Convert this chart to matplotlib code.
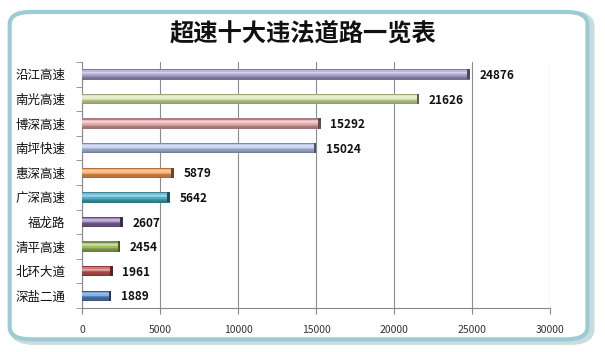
import matplotlib.pyplot as plt
from matplotlib.patches import FancyBboxPatch
import numpy as np

plt.rcParams['font.family'] = ['Noto Sans CJK SC', 'DejaVu Sans']

# data, top to bottom
roads = ['沿江高速', '南光高速', '博深高速', '南坪快速', '惠深高速',
         '广深高速', '福龙路', '清平高速', '北环大道', '深盐二通']
counts = [24876, 21626, 15292, 15024, 5879, 5642, 2607, 2454, 1961, 1889]
colors = ['#a9a1cc', '#cfe0a0', '#e3a9a8', '#a8b8e0', '#f79646',
          '#4bacc6', '#8064a2', '#9bbb59', '#c0504d', '#4f81bd']
x_ticks = [0, 5000, 10000, 15000, 20000, 25000, 30000]


def shade(c, f):
    rgb = np.array(plt.matplotlib.colors.to_rgb(c))
    if f > 0:
        return tuple(rgb + (1 - rgb) * f)
    return tuple(rgb * (1 + f))


fig = plt.figure(figsize=(6.05, 3.52), dpi=100)

# rounded frame with soft shadow
shadow = FancyBboxPatch((0.022, 0.03), 0.955, 0.93, boxstyle='round,pad=0,rounding_size=0.035',
                        transform=fig.transFigure, fc='none', ec='#c9dde0', lw=5, zorder=-3)
frame = FancyBboxPatch((0.016, 0.036), 0.955, 0.93, boxstyle='round,pad=0,rounding_size=0.035',
                       transform=fig.transFigure, fc='white', ec='#9ccbd3', lw=3, zorder=-2)
fig.patches.extend([shadow, frame])

fig.text(0.5, 0.905, '超速十大违法道路一览表', ha='center', va='center',
         fontsize=17.5, fontweight='bold', color='#111111')

ax = fig.add_axes([0.1355, 0.125, 0.7735, 0.699])
ax.set_zorder(2)
ax.set_facecolor('none')

y = np.arange(len(roads))
h = 0.42
cap = 170
for yi, v, c in zip(y, counts, colors):
    # layered strips give a rounded, glossy look
    n = 8
    for k in range(n):
        t = (k + 0.5) / n
        f = 0.55 * np.exp(-((t - 0.35) / 0.18) ** 2) - 0.35 * t ** 2
        if k == 0:
            f = -0.25
        ax.barh(yi - h / 2 + k * h / n, v, height=h / n + 0.005, align='edge',
                color=shade(c, f), lw=0, zorder=3)
    ax.barh(yi, cap, left=v - cap, height=h,
            color=shade(c, -0.55), lw=0, zorder=4)
    ax.text(v + 620, yi + 0.05, f'{v}', va='center', ha='left',
            fontsize=8.5, fontweight='bold', color='#111111', zorder=5)

ax.set_xlim(0, 30000)
ax.set_ylim(len(roads) - 0.5, -0.5)
ax.set_xticks(x_ticks)
ax.set_xticklabels([str(t) for t in x_ticks], fontsize=7.5, color='#333333')
ax.set_yticks(y)
ax.set_yticklabels(roads, fontsize=9, color='#111111')
ax.set_yticks(np.arange(-0.5, len(roads), 1), minor=True)
ax.tick_params(axis='y', which='major', length=0, pad=12)
ax.tick_params(axis='y', which='minor', length=4, color='#888888', direction='out')
ax.tick_params(axis='x', length=4, color='#888888', direction='out', pad=8)

ax.grid(axis='x', color='#8c8c8c', lw=0.8, zorder=1)
for s in ['top', 'right']:
    ax.spines[s].set_visible(False)
for s in ['left', 'bottom']:
    ax.spines[s].set_color('#888888')
    ax.spines[s].set_linewidth(0.8)

fig.savefig('out.png', dpi=100)
